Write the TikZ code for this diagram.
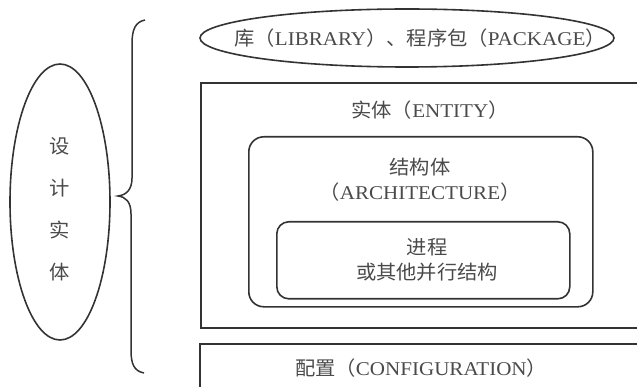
\documentclass[tikz,border=0pt]{standalone}
\usepackage{fontspec}
\setmainfont{Liberation Serif}[FakeStretch=1.08]
\newfontfamily\cjk{Noto Sans CJK SC}[FakeStretch=1.04]
\usetikzlibrary{shapes.geometric}
\definecolor{ln}{HTML}{333333}
\definecolor{tx}{HTML}{4A4A4A}
\begin{document}
\begin{tikzpicture}[x=1pt,y=-1pt,line width=1.6pt,
  outline/.style={draw=ln,inner sep=0pt},
  oval/.style={outline,ellipse},
  box/.style={outline,rectangle,anchor=north west},
  rbox/.style={outline,rectangle,rounded corners=#1,anchor=north west},
  txt/.style={inner sep=0pt,text=tx,font=\fontsize{19.5}{25}\selectfont,align=center}]
\useasboundingbox (0,0) rectangle (637,387);
\clip (0,0) rectangle (637,387);
% left ellipse
\node[oval,minimum width=100pt,minimum height=276pt] (design) at (60,202) {};
\node[txt,font=\fontsize{19.5}{42}\selectfont\cjk] (designt) at (design.center) [yshift=-7pt] {设\\计\\实\\体};
% brace
\draw[ln,line width=1.5pt] (145,20) .. controls (135,22) and (132,30) .. (132,44)
  -- (132,178) .. controls (132,190) and (126,195) .. (118,196)
  .. controls (126,197) and (131,202) .. (131,214)
  -- (131,350) .. controls (131,364) and (134,371) .. (144,373);
% library ellipse
\node[oval,minimum width=414pt,minimum height=58pt] (lib) at (407,38) {};
\node[txt] (libt) at (420,38) {{\cjk 库（}LIBRARY{\cjk ）、程序包（}PACKAGE{\cjk ）}};
% entity
\node[box,minimum width=520pt,minimum height=245pt] (entity) at (200,82) {};
\node[txt] (entt) at (430,110) {{\cjk 实体（}ENTITY{\cjk ）}};
% architecture
\node[rbox=15pt,minimum width=344pt,minimum height=170pt] (arch) at (248,136) {};
\node[txt] (archt) at (420,180) {{\cjk 结构体}\\{\cjk （}ARCHITECTURE{\cjk ）}};
% process
\node[rbox=12pt,minimum width=293pt,minimum height=77pt] (proc) at (276,221) {};
\node[txt,font=\fontsize{19.5}{25}\selectfont\cjk] (proct) at (427,260) {进程\\或其他并行结构};
% configuration
\node[box,minimum width=520pt,minimum height=80pt] (config) at (199,343) {};
\node[txt] (conft) at (421,368) {{\cjk 配置（}CONFIGURATION{\cjk ）}};
\end{tikzpicture}
\end{document}
